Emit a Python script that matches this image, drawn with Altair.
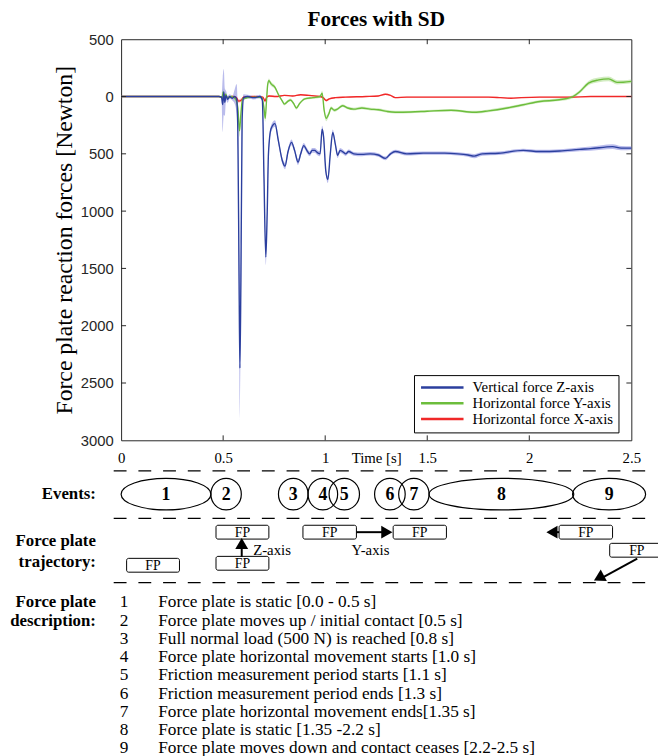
import altair as alt
import pandas as pd

# ---------------- data ----------------
series_names = ["Vertical force Z-axis", "Horizontal force Y-axis", "Horizontal force X-axis"]

t_z = [0.000, 0.480, 0.492, 0.498, 0.503, 0.508, 0.514, 0.522, 0.532, 0.545, 0.556, 0.566, 0.572, 0.578,
       0.582, 0.587, 0.593, 0.600, 0.620, 0.650, 0.680, 0.692, 0.700, 0.709, 0.716, 0.722, 0.735, 0.754,
       0.770, 0.790, 0.803, 0.818, 0.835, 0.850, 0.867, 0.880, 0.895, 0.910, 0.924, 0.936, 0.948, 0.962,
       0.975, 0.985, 0.992, 1.003, 1.013, 1.025, 1.037, 1.050, 1.061, 1.073, 1.085, 1.100, 1.115, 1.140,
       1.180, 1.220, 1.260, 1.295, 1.320, 1.343, 1.400, 1.480, 1.585, 1.650, 1.700, 1.730, 1.770, 1.850,
       1.970, 2.050, 2.150, 2.247, 2.300, 2.408, 2.450, 2.500]
f_z = [0, 0, 5, 70, -40, 50, -10, 25, 0, 15, 0, 20, 300, 1600,
       2370, 1600, 200, 10, 0, 10, 0, 30, 700, 1400, 1000, 500, 280, 236,
       380, 560, 607, 480, 400, 470, 572, 500, 428, 470, 500, 470, 470, 490,
       500, 285, 350, 650, 724, 500, 313, 420, 514, 470, 480, 500, 480, 500,
       505, 500, 510, 540, 500, 480, 500, 494, 494, 500, 510, 520, 500, 495,
       470, 480, 475, 461, 455, 437, 450, 450]
sd_z = [5, 5, 10, 240, 200, 120, 40, 30, 20, 20, 60, 130, 150, 300,
        450, 300, 100, 30, 15, 15, 15, 20, 60, 70, 60, 40, 30, 28,
        25, 25, 28, 25, 25, 22, 25, 24, 22, 22, 20, 20, 20, 22,
        22, 30, 30, 28, 30, 25, 25, 22, 22, 20, 20, 18, 18, 16,
        16, 15, 15, 16, 15, 15, 15, 14, 14, 14, 15, 18, 16, 15,
        15, 15, 15, 16, 18, 20, 18, 16]

t_y = [0.000, 0.480, 0.495, 0.500, 0.505, 0.512, 0.520, 0.540, 0.560, 0.572, 0.580, 0.587, 0.595, 0.620,
       0.660, 0.690, 0.700, 0.706, 0.712, 0.718, 0.724, 0.735, 0.754, 0.770, 0.790, 0.800, 0.818, 0.830,
       0.845, 0.859, 0.875, 0.900, 0.940, 0.975, 0.985, 0.995, 1.005, 1.018, 1.029, 1.045, 1.060, 1.085,
       1.110, 1.140, 1.180, 1.220, 1.260, 1.303, 1.343, 1.420, 1.500, 1.617, 1.730, 1.800, 1.892, 1.970,
       2.053, 2.147, 2.214, 2.247, 2.290, 2.340, 2.389, 2.430, 2.460, 2.500]
f_y = [0, 0, 10, -40, 30, -20, 10, 0, 20, 100, 300, 150, 20, 10,
       5, 10, 100, 190, 50, -100, -138, -110, -80, -20, 40, 66, 40, 30,
       60, 100, 60, 20, 10, 0, -30, 120, 190, 150, 100, 120, 110, 80,
       100, 110, 100, 110, 115, 130, 137, 135, 128, 120, 137, 125, 100, 72,
       43, 28, 0, -42, -117, -145, -154, -124, -125, -132]
sd_y = [3, 3, 10, 30, 25, 15, 10, 8, 15, 30, 50, 30, 12, 8,
        6, 8, 20, 30, 25, 25, 20, 18, 15, 12, 12, 12, 12, 12,
        12, 14, 12, 10, 10, 10, 20, 25, 25, 20, 15, 14, 12, 12,
        12, 12, 12, 12, 12, 12, 12, 10, 10, 10, 12, 12, 12, 12,
        12, 12, 14, 15, 18, 20, 20, 18, 16, 16]

t_x = [0.000, 0.480, 0.500, 0.510, 0.520, 0.545, 0.565, 0.575, 0.590, 0.600, 0.650, 0.695, 0.705, 0.712,
       0.725, 0.760, 0.800, 0.840, 0.880, 0.920, 0.975, 0.990, 1.005, 1.020, 1.050, 1.100, 1.200, 1.260,
       1.295, 1.320, 1.343, 1.400, 1.500, 1.600, 1.700, 1.800, 1.860, 1.910, 1.960, 2.050, 2.200, 2.300,
       2.400, 2.500]
f_x = [0, 0, 10, -15, 10, 0, 10, 40, 30, 5, 0, 5, 40, 10,
       -5, 0, -10, -5, -15, -10, 0, 10, 35, 20, 10, 5, 0, -5,
       -20, -10, 10, 5, 5, 5, 5, 5, 10, 15, 10, 5, 5, 0,
       0, 0]
sd_x = [2, 2, 10, 12, 10, 8, 10, 15, 15, 8, 5, 6, 15, 10,
        8, 6, 6, 6, 6, 6, 6, 8, 10, 8, 6, 6, 5, 5,
        6, 6, 6, 5, 5, 5, 5, 5, 5, 6, 5, 5, 5, 5,
        5, 5]

x_ticks = [0, 0.5, 1, 1.5, 2, 2.5]
y_ticks = [-500, 0, 500, 1000, 1500, 2000, 2500, 3000]

event_labels = ["1", "2", "3", "4", "5", "6", "7", "8", "9"]
event_start = [0.000, 0.440, 0.771, 0.916, 1.019, 1.242, 1.360, 1.509, 2.212]
event_end = [0.440, 0.589, 0.916, 1.061, 1.168, 1.392, 1.509, 2.218, 2.570]

fp_start = [0.027, 0.465, 0.465, 0.891, 1.333, 2.146, 2.394]
fp_end = [0.286, 0.724, 0.724, 1.153, 1.594, 2.408, 2.660]
fp_row = ["low2", "low", "top", "top", "top", "top", "mid"]

desc_numbers = ["1", "2", "3", "4", "5", "6", "7", "8", "9"]
desc_texts = [
    "Force plate is static [0.0 - 0.5 s]",
    "Force plate moves up / initial contact [0.5 s]",
    "Full normal load (500 N) is reached [0.8 s]",
    "Force plate horizontal movement starts [1.0 s]",
    "Friction measurement period starts [1.1 s]",
    "Friction measurement period ends [1.3 s]",
    "Force plate horizontal movement ends[1.35 s]",
    "Force plate is static [1.35 -2.2 s]",
    "Force plate moves down and contact ceases [2.2-2.5 s]",
]

# ---------------- styles / layout ----------------
W, H = 516.5, 406
PX_PER_S = W / 2.5
SERIF = "Liberation Serif"
SANS = "Liberation Sans"
line_colors = ["#2b3f9e", "#6cbd3c", "#f02828"]
sd_colors = ["#8c90e0", "#b4df98", "#ff9c9c"]
AX = "#262626"
ELL_H = 32
EV_Y = 460.5
row_center = {"top": 499, "mid": 517.3, "low": 530.5, "low2": 532.5}
BOX_HALF = 7
DESC_FS = 17.5
DESC_LH = 18.5

rows = []
for name, ts, fs, sds in [(series_names[2], t_x, f_x, sd_x),
                          (series_names[1], t_y, f_y, sd_y),
                          (series_names[0], t_z, f_z, sd_z)]:
    assert len(ts) == len(fs) == len(sds), name
    for t, f, s in zip(ts, fs, sds):
        rows.append({"series": name, "t": t, "f": f, "lo": f - s, "hi": f + s})
df = pd.DataFrame(rows)

xs = alt.Scale(domain=[0, 2.5], nice=False, zero=False)
ys = alt.Scale(domain=[-500, 3000], reverse=True, nice=False, zero=False)
X_AX = alt.Axis(
    values=x_ticks, format="~g", title="Time [s]", titleFont=SERIF, titleFontSize=15,
    titleFontWeight="normal", titleColor="black", titleY=22, titleBaseline="alphabetic",
    labelFont=SERIF, labelFontSize=15, labelColor="black", labelPadding=10,
    ticks=False, domain=False, grid=False, labelFlush=False, labelOverlap=False)
Y_AX = alt.Axis(
    values=y_ticks, labelExpr="format(abs(datum.value), 'd')", labelFont=SANS,
    labelFontSize=15, labelColor=AX, labelPadding=8, ticks=False, domain=False, grid=False,
    labelFlush=False, labelOverlap=False,
    title="Force plate reaction forces [Newton]", titleFont=SERIF, titleFontSize=24,
    titleFontWeight="normal", titleColor="black", titleX=-57, titleY=203, titleAngle=270,
    titleAlign="center", titleBaseline="middle")


def X(field):
    return alt.X(field, scale=xs, axis=X_AX)


def Y(field):
    return alt.Y(field, scale=ys, axis=Y_AX)


dummy = pd.DataFrame({"a": [0]})

layers = []
# SD bands (one per series, drawn under the mean lines)
for name, col in zip(series_names[::-1], sd_colors[::-1]):
    layers.append(alt.Chart(df[df.series == name]).mark_area(
        opacity=0.6, interpolate="monotone", color=col).encode(
        x=X("t:Q"), y=Y("lo:Q"), y2="hi:Q"))

lines = alt.Chart(df).mark_line(strokeWidth=1.4, interpolate="monotone").encode(
    x=X("t:Q"), y=Y("f:Q"),
    color=alt.Color("series:N", scale=alt.Scale(domain=series_names, range=line_colors),
                    legend=alt.Legend(title=None, orient="none", legendX=296.5, legendY=340,
                                      symbolType="M-1,0L7,0", symbolSize=115.6, symbolStrokeWidth=2.5,
                                      labelFont=SERIF, labelFontSize=15, labelColor="black",
                                      labelOffset=39.25, padding=5, rowPadding=0,
                                      fillColor="white", strokeColor="black", labelLimit=400)),
)
layers.append(lines)

# inner tick marks (Matlab style box)
xt = pd.DataFrame({"t": x_ticks[1:-1]})
yt = pd.DataFrame({"f": y_ticks[1:-1]})
layers += [
    alt.Chart(xt).mark_rule(color=AX).encode(x=X("t:Q"), y=alt.value(0), y2=alt.value(5)),
    alt.Chart(xt).mark_rule(color=AX).encode(x=X("t:Q"), y=alt.value(H), y2=alt.value(H - 5)),
    alt.Chart(yt).mark_rule(color=AX).encode(y=Y("f:Q"), x=alt.value(0), x2=alt.value(5)),
    alt.Chart(yt).mark_rule(color=AX).encode(y=Y("f:Q"), x=alt.value(W), x2=alt.value(W - 5)),
]


# ---------------- lower diagram ----------------
def hline(ypx):
    return alt.Chart(dummy).mark_rule(color="black", strokeWidth=1.2, strokeDash=[13, 12]).encode(
        x=alt.value(-7.5), x2=alt.value(538), y=alt.value(ypx))


layers += [hline(437), hline(485), hline(550)]


def ellipse_path(a):
    k = 0.5523
    return (f"M-1,0C-1,{-a*k:.4f},{-k:.4f},{-a:.4f},0,{-a:.4f}"
            f"C{k:.4f},{-a:.4f},1,{-a*k:.4f},1,0"
            f"C1,{a*k:.4f},{k:.4f},{a:.4f},0,{a:.4f}"
            f"C{-k:.4f},{a:.4f},-1,{a*k:.4f},-1,0Z")


ev = pd.DataFrame({"label": event_labels, "t0": event_start, "t1": event_end})
ev["tc"] = (ev.t0 + ev.t1) / 2
ev["wpx"] = (ev.t1 - ev.t0) * PX_PER_S
ev["shape"] = [ellipse_path(ELL_H / w) for w in ev.wpx]
ev["size"] = ev.wpx ** 2

layers.append(alt.Chart(ev).mark_point(filled=False, color="black", strokeWidth=1.2, opacity=1).encode(
    x=X("tc:Q"), y=alt.value(EV_Y),
    shape=alt.Shape("shape:N", scale=None),
    size=alt.Size("size:Q", scale=None),
))
layers.append(alt.Chart(ev).mark_text(font=SERIF, fontSize=18, fontWeight="bold", color="black",
                                      baseline="middle", dy=1).encode(
    x=X("tc:Q"), y=alt.value(EV_Y), text="label:N"))

fp = pd.DataFrame({"t0": fp_start, "t1": fp_end, "row": fp_row})
fp["tc"] = (fp.t0 + fp.t1) / 2
for r, yc in row_center.items():
    sub = fp[fp.row == r]
    layers.append(alt.Chart(sub).mark_rect(fill="white", stroke="black", strokeWidth=1, cornerRadius=2).encode(
        x=X("t0:Q"), x2="t1:Q", y=alt.value(yc - BOX_HALF), y2=alt.value(yc + BOX_HALF)))
    layers.append(alt.Chart(sub).mark_text(font=SERIF, fontSize=14, color="black", fill="black",
                                           baseline="middle", dy=1, text="FP").encode(
        x=X("tc:Q"), y=alt.value(yc)))

# arrows (tail time, head time, tail px, head px, head angle)
arrow_t0 = [0.591, 1.153, 2.146, 2.529]
arrow_t1 = [0.591, 1.290, 2.120, 2.365]
arrow_y0 = [524, 499, 499, 525.7]
arrow_y1 = [512, 499, 499, 544.3]
head_t = [0.591, 1.302, 2.111, 2.341]
head_y = [510.5, 499, 499, 545.3]
head_angle = [0, 90, 270, 241.7]
for a0, a1, b0, b1, ht, hy, ang in zip(arrow_t0, arrow_t1, arrow_y0, arrow_y1, head_t, head_y, head_angle):
    d = pd.DataFrame({"t0": [a0], "t1": [a1], "ht": [ht]})
    layers.append(alt.Chart(d).mark_rule(color="black", strokeWidth=2).encode(
        x=X("t0:Q"), x2="t1:Q", y=alt.value(b0), y2=alt.value(b1)))
    layers.append(alt.Chart(d).mark_point(shape="triangle-up", filled=True, color="black", opacity=1,
                                          size=170, angle=ang).encode(
        x=X("ht:Q"), y=alt.value(hy)))

axis_lbl = pd.DataFrame({"t": [0.647, 1.222], "txt": ["Z-axis", "Y-axis"]})
layers.append(alt.Chart(axis_lbl.iloc[[0]]).mark_text(font=SERIF, fontSize=15, color="black", align="left",
                                                      baseline="middle").encode(
    x=X("t:Q"), y=alt.value(517), text="txt:N"))
layers.append(alt.Chart(axis_lbl.iloc[[1]]).mark_text(font=SERIF, fontSize=15, color="black", align="center",
                                                      baseline="middle").encode(
    x=X("t:Q"), y=alt.value(517), text="txt:N"))


# left-side bold labels
def side_label(txt, ytop, lh):
    return alt.Chart(dummy).mark_text(font=SERIF, fontSize=17, fontWeight="bold", color="black",
                                      align="right", baseline="top", lineBreak="\n", lineHeight=lh).encode(
        x=alt.value(-25.5), y=alt.value(ytop), text=alt.value(txt))


layers += [side_label("Events:", 452, 20),
           side_label("Force plate\ntrajectory:", 499.5, 22),
           side_label("Force plate\ndescription:", 561.6, 19)]

layers.append(alt.Chart(dummy).mark_text(font=SERIF, fontSize=DESC_FS, color="black", align="left",
                                         baseline="top", lineBreak="\n", lineHeight=DESC_LH).encode(
    x=alt.value(-1.5), y=alt.value(561), text=alt.value("\n".join(desc_numbers))))
layers.append(alt.Chart(dummy).mark_text(font=SERIF, fontSize=DESC_FS, color="black", align="left",
                                         baseline="top", lineBreak="\n", lineHeight=DESC_LH).encode(
    x=alt.value(37.5), y=alt.value(561), text=alt.value("\n".join(desc_texts))))

chart = alt.layer(*layers).properties(
    width=W, height=H,
    title=alt.TitleParams("Forces with SD", font=SERIF, fontSize=21.5, fontWeight="bold", color="black",
                          anchor="middle", frame="group", offset=2),
    padding={"left": 114.5, "top": 27, "right": 27, "bottom": 318},
    autosize=alt.AutoSizeParams(type="none"),
).configure_view(stroke=AX, strokeWidth=1)

chart.save("out.html", embed_options={"renderer": "svg", "actions": False})
